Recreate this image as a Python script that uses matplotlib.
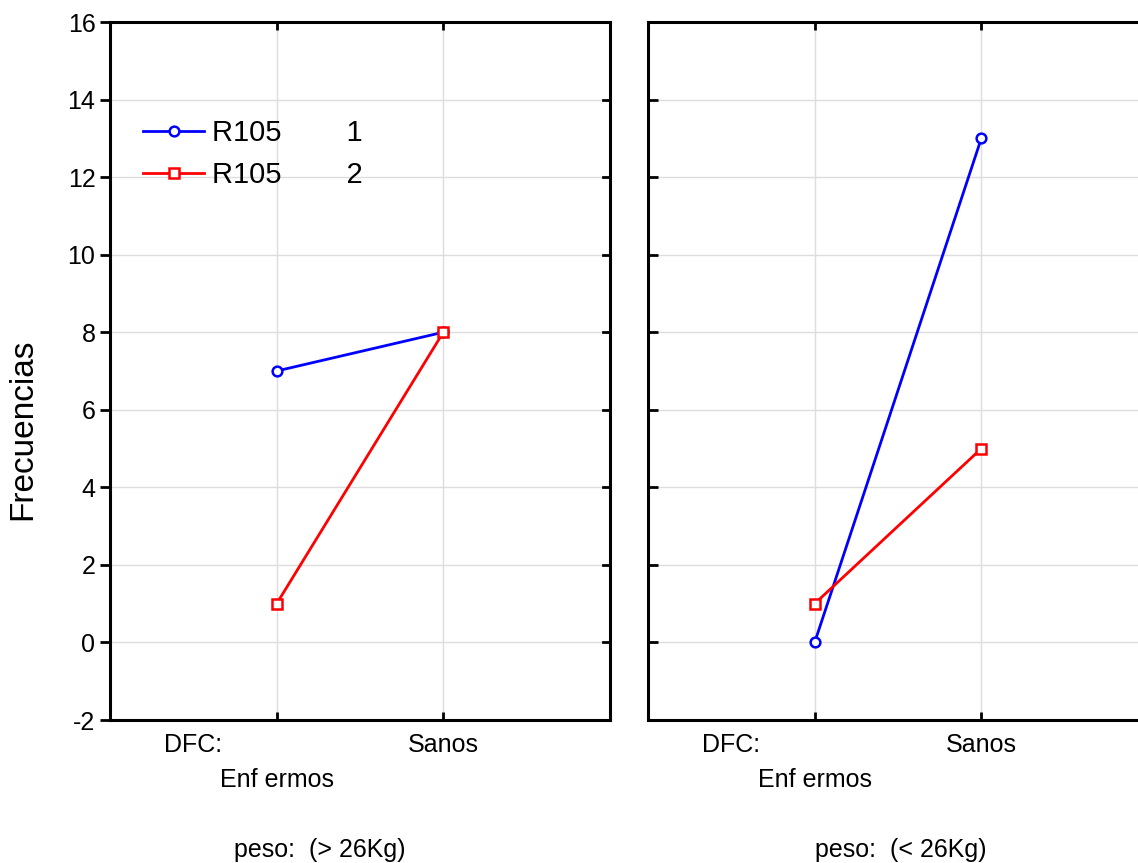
import numpy as np
import matplotlib
matplotlib.use('Agg')
import matplotlib.pyplot as plt

plt.rcParams['font.family'] = ['Liberation Sans', 'DejaVu Sans']

# datos
categorias = ['Enfermos', 'Sanos']
series = ['R105        1', 'R105        2']
izq_r1 = [7, 8]    # peso > 26Kg
izq_r2 = [1, 8]
der_r1 = [0, 13]   # peso < 26Kg
der_r2 = [1, 5]
paneles = ['peso:  (> 26Kg)', 'peso:  (< 26Kg)']
yticks = [-2, 0, 2, 4, 6, 8, 10, 12, 14, 16]

W, H = 1138, 863
fig = plt.figure(figsize=(W / 100, H / 100), dpi=100)
ax1 = fig.add_axes([110 / W, (H - 720) / H, 500 / W, 698 / H])
ax2 = fig.add_axes([648 / W, (H - 720) / H, 500 / W, 698 / H])

x = np.arange(len(categorias))
for ax, r1, r2 in [(ax1, izq_r1, izq_r2), (ax2, der_r1, der_r2)]:
    ax.plot(x, r1, color='#0000ff', lw=2, marker='o', ms=7, mfc='white',
            mec='#0000ff', mew=1.8, label=series[0], zorder=3)
    ax.plot(x, r2, color='#ff0000', lw=2, marker='s', ms=7, mfc='white',
            mec='#ff0000', mew=1.8, label=series[1], zorder=3)
    ax.set_xlim(-1, 2)
    ax.set_ylim(-2, 16)
    ax.set_yticks(yticks)
    ax.set_yticklabels([str(v) for v in yticks])
    ax.set_xticks(x)
    ax.set_xticklabels([])
    ax.grid(True, color='#dddddd', lw=1)
    ax.set_axisbelow(True)
    for s in ax.spines.values():
        s.set_linewidth(2.2)
    ax.tick_params(axis='x', direction='in', length=6, width=2, top=True)
    ax.tick_params(axis='y', direction='in', length=7, width=2, labelsize=18)
    # etiquetas de categoria
    ax.text(-0.5, -2.65, 'DFC:', ha='center', va='center', fontsize=18)
    ax.text(0, -3.55, 'Enf ermos', ha='center', va='center', fontsize=18)
    ax.text(1, -2.65, 'Sanos', ha='center', va='center', fontsize=18)

# panel izquierdo: ticks y hacia fuera a la izquierda, hacia dentro a la derecha
ax1.tick_params(axis='y', direction='out', left=True, right=False)
for yy in yticks:
    ax1.plot([1.0, 0.986], [yy, yy], transform=ax1.get_yaxis_transform(),
             color='black', lw=2, clip_on=False)
ax2.tick_params(axis='y', labelleft=False, right=False)

ax1.set_ylabel('Frecuencias', fontsize=24)
ax1.yaxis.set_label_coords(-0.144, 0.417)

fig.text(320 / W, 1 - 850 / H, paneles[0], ha='center', va='center', fontsize=18)
fig.text(901 / W, 1 - 850 / H, paneles[1], ha='center', va='center', fontsize=18)

ax1.legend(loc='upper left', bbox_to_anchor=(0.066, 0.861), frameon=False,
           borderaxespad=0, borderpad=0, fontsize=21, handlelength=2.1,
           handletextpad=0.28, labelspacing=0.49)

fig.savefig('out.png', dpi=100)
